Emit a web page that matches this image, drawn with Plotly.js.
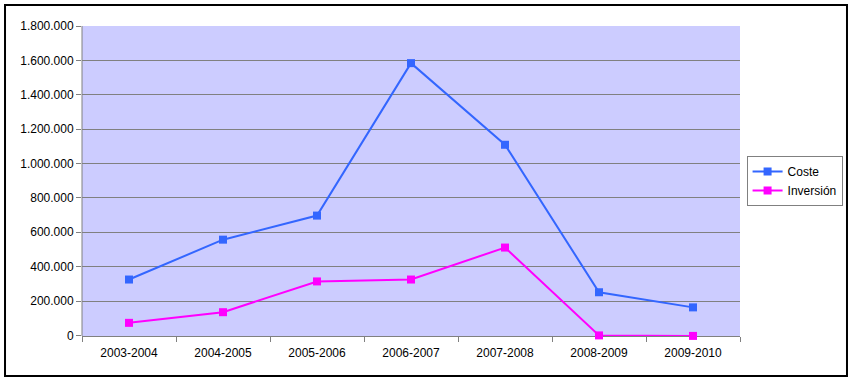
<!DOCTYPE html>
<html><head><meta charset="utf-8">
<script src="https://cdn.plot.ly/plotly-3.0.1.min.js"></script>
<style>html,body{margin:0;padding:0;background:#fff;}#chart{width:852px;height:382px;}</style>
</head><body><div id="chart"></div>
<script>
var categories = ["2003-2004","2004-2005","2005-2006","2006-2007","2007-2008","2008-2009","2009-2010"];
var coste = [325000, 557000, 697000, 1584000, 1109000, 251000, 163000];
var inversion = [73000, 135000, 314000, 325000, 511000, 0, -3000];
var yTicks = [0,200000,400000,600000,800000,1000000,1200000,1400000,1600000,1800000];

var traces = [
  {x: categories, y: coste, name: "Coste", type: "scatter", mode: "lines+markers",
   line: {color: "#3366FF", width: 2}, marker: {symbol: "square", size: 8, color: "#3366FF"}, cliponaxis: false},
  {x: categories, y: inversion, name: "Inversión", type: "scatter", mode: "lines+markers",
   line: {color: "#FF00FF", width: 2}, marker: {symbol: "square", size: 8, color: "#FF00FF"}, cliponaxis: false}
];
var layout = {
  width: 852, height: 382,
  margin: {l: 82, r: 112, t: 26, b: 46, pad: 0, autoexpand: false},
  paper_bgcolor: "#ffffff", plot_bgcolor: "#CCCCFF",
  separators: ",.",
  font: {family: "Liberation Sans, Arial, sans-serif", size: 12, color: "#000"},
  showlegend: true,
  legend: {x: 1.01, y: 0.5, xanchor: "left", yanchor: "middle", bgcolor: "#fff",
    bordercolor: "#808080", borderwidth: 1, font: {size: 12, color: "#000"}, tracegroupgap: 0,
    itemwidth: 30},
  xaxis: {type: "category", range: [-0.5, 6.5], showgrid: false, showline: true, linecolor: "#808080", linewidth: 1,
    ticks: "outside", tickson: "boundaries", ticklen: 5, tickcolor: "#808080", fixedrange: true, zeroline: false,
    ticklabelstandoff: 6, layer: "below traces", automargin: false},
  yaxis: {range: [-3500, 1800000], tickvals: yTicks, tickformat: ",d", showgrid: true, gridcolor: "#808080", gridwidth: 1,
    showline: false, ticks: "outside", ticklen: 5, tickcolor: "#808080",
    zeroline: false, fixedrange: true, layer: "below traces", automargin: false},
  shapes: [
    {type: "line", xref: "paper", yref: "paper", x0: 0, x1: 0, y0: 0, y1: 1, line: {color: "#808080", width: 1}, layer: "below"},
    {type: "rect", xref: "paper", yref: "paper", x0: -0.1170, x1: 1.1626, y0: -0.129, y1: 1.0677,
    line: {color: "#000", width: 2}, fillcolor: "rgba(0,0,0,0)", layer: "above"}]
};
Plotly.newPlot("chart", traces, layout, {displayModeBar: false, staticPlot: true});
</script></body></html>
